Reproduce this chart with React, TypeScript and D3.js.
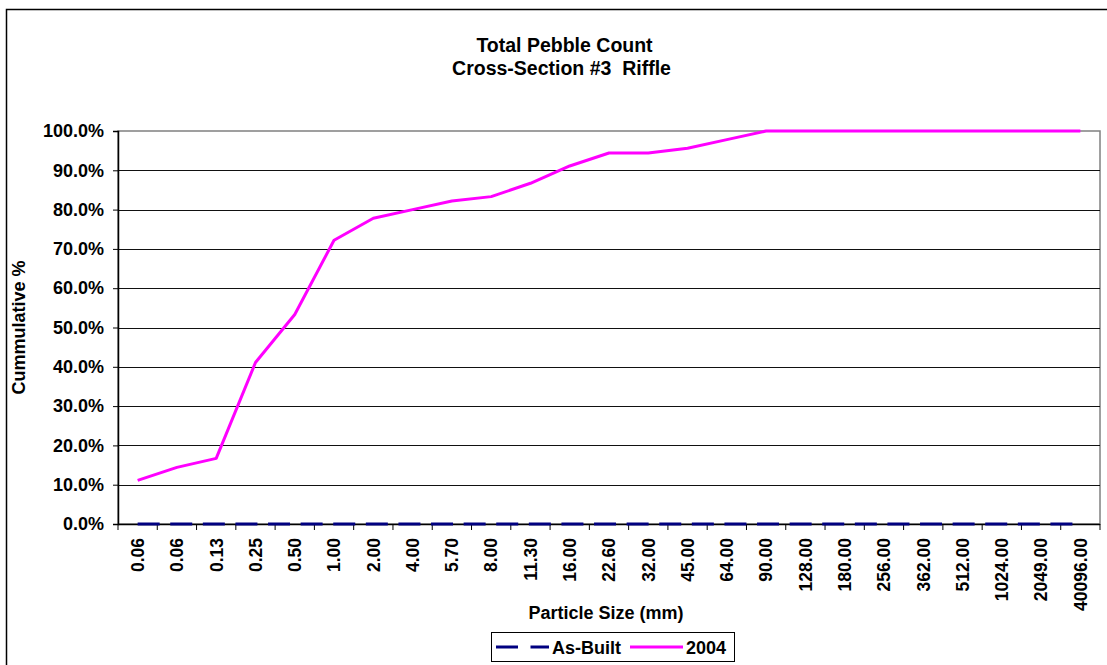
import { useEffect, useRef } from 'react';
import * as d3 from 'd3';

const sizes = ['0.06', '0.06', '0.13', '0.25', '0.50', '1.00', '2.00', '4.00', '5.70', '8.00', '11.30', '16.00', '22.60', '32.00', '45.00', '64.00', '90.00', '128.00', '180.00', '256.00', '362.00', '512.00', '1024.00', '2049.00', '40096.00'];
const asBuilt = [0, 0, 0, 0, 0, 0, 0, 0, 0, 0, 0, 0, 0, 0, 0, 0, 0, 0, 0, 0, 0, 0, 0, 0, 0];
const y2004 = [11.1, 14.4, 16.7, 41.1, 53.3, 72.2, 77.8, 80.0, 82.2, 83.3, 86.7, 91.1, 94.4, 94.4, 95.6, 97.8, 100, 100, 100, 100, 100, 100, 100, 100, 100];
const yTicks = [0, 10, 20, 30, 40, 50, 60, 70, 80, 90, 100];

const FONT = '"Liberation Sans", Arial, sans-serif';

const App = () => {
  const svgRef = useRef<SVGSVGElement>(null);

  useEffect(() => {
    const svg = d3.select(svgRef.current);
    svg.selectAll('*').remove();

    const W = 1107, H = 665;
    const left = 118, right = 1100, top = 131, bottom = 524;

    svg.attr('width', W).attr('height', H).style('font-family', FONT);

    // outer chart border
    svg.append('rect')
      .attr('x', 6.5).attr('y', 9.5)
      .attr('width', 1300).attr('height', 800)
      .attr('fill', '#fff').attr('stroke', '#000').attr('stroke-width', 1.5);

    const x = d3.scaleBand<number>()
      .domain(sizes.map((_, i) => i))
      .range([left, right]);

    const y = d3.scaleLinear().domain([0, 100]).range([bottom, top]);

    // plot border
    svg.append('rect')
      .attr('x', left).attr('y', top)
      .attr('width', right - left).attr('height', bottom - top)
      .attr('fill', 'none').attr('stroke', '#808080').attr('stroke-width', 1.5);

    // gridlines
    svg.append('g')
      .selectAll('line')
      .data(yTicks.filter(t => t > 0 && t < 100))
      .enter().append('line')
      .attr('x1', left).attr('x2', right)
      .attr('y1', d => Math.round(y(d)) + 0.5).attr('y2', d => Math.round(y(d)) + 0.5)
      .attr('stroke', '#111').attr('stroke-width', 1.2);

    // y axis
    const yAxis = svg.append('g')
      .attr('transform', `translate(${left},0)`)
      .call(d3.axisLeft(y).tickValues(yTicks).tickSize(5).tickPadding(9)
        .tickFormat(d => `${(+d).toFixed(1)}%`));
    yAxis.select('.domain').attr('stroke', '#000').attr('stroke-width', 1.5);
    yAxis.selectAll('.tick line').attr('stroke', '#000');
    yAxis.selectAll('.tick text')
      .attr('fill', '#000')
      .style('font-size', '18px').style('font-weight', 'bold').style('font-family', FONT);

    // x axis
    const xg = svg.append('g');
    xg.append('line')
      .attr('x1', left).attr('x2', right)
      .attr('y1', bottom + 0.5).attr('y2', bottom + 0.5)
      .attr('stroke', '#000').attr('stroke-width', 1.5);
    xg.selectAll('line.tk')
      .data(d3.range(sizes.length + 1))
      .enter().append('line')
      .attr('class', 'tk')
      .attr('x1', i => (i < sizes.length ? x(i)! : right))
      .attr('x2', i => (i < sizes.length ? x(i)! : right))
      .attr('y1', bottom).attr('y2', bottom + 6)
      .attr('stroke', '#000').attr('stroke-width', 1);
    xg.selectAll('text')
      .data(sizes)
      .enter().append('text')
      .attr('transform', (_, i) => `translate(${x(i)! + x.bandwidth() / 2},538) rotate(-90)`)
      .attr('text-anchor', 'end')
      .attr('dy', '0.36em')
      .style('font-size', '17.5px').style('font-weight', 'bold')
      .text(d => d);

    const line = d3.line<number>()
      .x((_, i) => x(i)! + x.bandwidth() / 2)
      .y(d => y(d));

    svg.append('path')
      .datum(asBuilt)
      .attr('d', line)
      .attr('fill', 'none')
      .attr('stroke', '#000080').attr('stroke-width', 3)
      .attr('stroke-dasharray', '22,10.6');

    svg.append('path')
      .datum(y2004)
      .attr('d', line)
      .attr('fill', 'none')
      .attr('stroke', '#FF00FF').attr('stroke-width', 3)
      .attr('stroke-linejoin', 'round');

    // titles
    svg.append('text')
      .attr('x', 564.5).attr('y', 52)
      .attr('text-anchor', 'middle')
      .style('font-size', '19.5px').style('font-weight', 'bold')
      .text('Total Pebble Count');
    svg.append('text')
      .attr('x', 561.5).attr('y', 75)
      .attr('text-anchor', 'middle')
      .style('font-size', '19.5px').style('font-weight', 'bold')
      .style('white-space', 'pre')
      .text('Cross-Section #3  Riffle');

    svg.append('text')
      .attr('transform', `translate(25,${(top + bottom) / 2}) rotate(-90)`)
      .attr('text-anchor', 'middle')
      .style('font-size', '18px').style('font-weight', 'bold')
      .text('Cummulative %');

    svg.append('text')
      .attr('x', 606).attr('y', 619)
      .attr('text-anchor', 'middle')
      .style('font-size', '18px').style('font-weight', 'bold')
      .text('Particle Size (mm)');

    // legend
    const lg = svg.append('g');
    lg.append('rect')
      .attr('x', 491.5).attr('y', 632.5)
      .attr('width', 243).attr('height', 29)
      .attr('fill', '#fff').attr('stroke', '#000').attr('stroke-width', 1);
    lg.append('line')
      .attr('x1', 496).attr('x2', 549).attr('y1', 647).attr('y2', 647)
      .attr('stroke', '#000080').attr('stroke-width', 3)
      .attr('stroke-dasharray', '22,12.5');
    lg.append('text')
      .attr('x', 552).attr('y', 653.5)
      .style('font-size', '18px').style('font-weight', 'bold')
      .text('As-Built');
    lg.append('line')
      .attr('x1', 630).attr('x2', 683).attr('y1', 647).attr('y2', 647)
      .attr('stroke', '#FF00FF').attr('stroke-width', 3);
    lg.append('text')
      .attr('x', 686).attr('y', 653.5)
      .style('font-size', '18px').style('font-weight', 'bold')
      .text('2004');
  }, []);

  return (
    <div>
      <svg ref={svgRef} style={{ position: 'absolute', left: 0, top: 0 }}></svg>
    </div>
  );
};

export default App;
